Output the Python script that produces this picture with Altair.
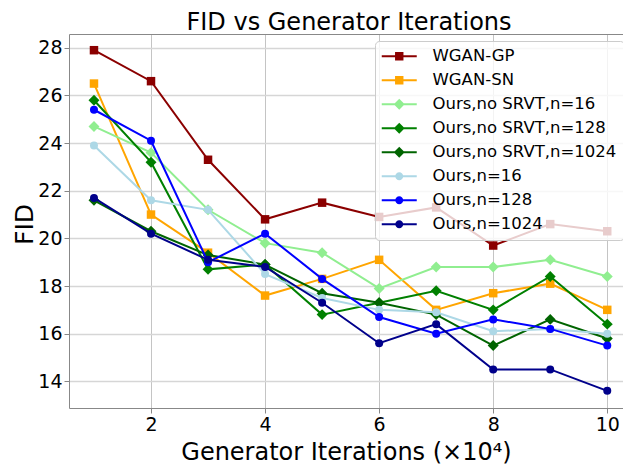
import altair as alt
import pandas as pd

FONT = "DejaVu Sans"

iterations = [1, 2, 3, 4, 5, 6, 7, 8, 9, 10]

series_names = [
    "WGAN-GP",
    "WGAN-SN",
    "Ours,no SRVT,n=16",
    "Ours,no SRVT,n=128",
    "Ours,no SRVT,n=1024",
    "Ours,n=16",
    "Ours,n=128",
    "Ours,n=1024",
]
series_colors = ["#8B0000", "#FFA500", "#90EE90", "#008000", "#006400", "#ADD8E6", "#0000FF", "#00008B"]
series_markers = ["square", "square", "diamond", "diamond", "diamond", "circle", "circle", "circle"]

wgan_gp = [27.9, 26.6, 23.3, 20.8, 21.5, 20.9, 21.3, 19.7, 20.6, 20.3]
wgan_sn = [26.5, 21.0, 19.4, 17.6, 18.3, 19.1, 17.0, 17.7, 18.1, 17.0]
nosrvt_16 = [24.7, 23.6, 21.2, 19.8, 19.4, 17.9, 18.8, 18.8, 19.1, 18.4]
nosrvt_128 = [25.8, 23.2, 18.7, 18.9, 16.8, 17.3, 17.8, 17.0, 18.4, 16.4]
nosrvt_1024 = [21.6, 20.3, 19.3, 18.9, 17.7, 17.3, 16.8, 15.5, 16.6, 15.8]
ours_16 = [23.9, 21.6, 21.2, 18.5, 17.5, 17.0, 16.9, 16.1, 16.2, 16.0]
ours_128 = [25.4, 24.1, 19.0, 20.2, 18.3, 16.7, 16.0, 16.6, 16.2, 15.5]
ours_1024 = [21.7, 20.2, 19.1, 18.8, 17.3, 15.6, 16.4, 14.5, 14.5, 13.6]

all_values = [wgan_gp, wgan_sn, nosrvt_16, nosrvt_128, nosrvt_1024, ours_16, ours_128, ours_1024]

x_ticks = [2, 4, 6, 8, 10]
y_ticks = [14, 16, 18, 20, 22, 24, 26, 28]
Y_MAX = 28.58

rows = []
for name, vals in zip(series_names, all_values):
    for it, v in zip(iterations, vals):
        rows.append({"series": name, "iteration": it, "fid": v})
df = pd.DataFrame(rows)

marker_sizes = {"square": 72, "diamond": 120, "circle": 64}

# legend symbols: a line with the marker in the middle
line_part = "M-2.5,-0.14H2.5V0.14H-2.5Z"
legend_paths = {
    "square": line_part + "M-0.6,-0.6H0.6V0.6H-0.6Z",
    "diamond": line_part + "M0,-0.78L0.78,0L0,0.78L-0.78,0Z",
    "circle": line_part + "M-0.57,0A0.57,0.57,0,1,1,0.57,0A0.57,0.57,0,1,1,-0.57,0Z",
}

PLOT_W, PLOT_H = 554, 374

x_scale = alt.Scale(domain=[0.562, 10.276], nice=False, zero=False)
y_scale = alt.Scale(domain=[12.88, Y_MAX], nice=False, zero=False)

SPINE = "#888888"
top_test = "datum.value > 28.5"

x_axis = alt.Axis(
    values=x_ticks, format="d",
    title="Generator Iterations (×10⁴)",
    grid=True, gridColor="#c4c4c4", gridWidth=1,
    domain=True, domainColor=SPINE, domainWidth=1,
    tickColor=SPINE, tickSize=5, tickWidth=1,
    labelPadding=2, labelFontSize=19, labelColor="black", labelFont=FONT,
    titleFont=FONT, titleFontSize=24, titleFontWeight="normal", titleColor="black",
    titleY=51, titleBaseline="alphabetic",
)
y_axis = alt.Axis(
    values=y_ticks + [Y_MAX], format="d", title="FID",
    labelExpr=f"{top_test} ? '' : datum.label",
    grid=True,
    gridColor={"condition": {"test": top_test, "value": SPINE}, "value": "#d6d6d6"},
    gridWidth={"condition": {"test": top_test, "value": 1}, "value": 1.5},
    domain=True, domainColor=SPINE, domainWidth=1,
    tickColor={"condition": {"test": top_test, "value": "transparent"}, "value": SPINE},
    tickSize=5, tickWidth=1,
    labelPadding=2, labelFontSize=19, labelColor="black", labelFont=FONT,
    titleFont=FONT, titleFontSize=25, titleFontWeight="normal", titleColor="black",
    titleX=-37, titleY=PLOT_H / 2 + 3, titleBaseline="alphabetic", titleAngle=270,
)

layers = []
for i, (name, color, marker) in enumerate(zip(series_names, series_colors, series_markers)):
    base = alt.Chart(df).transform_filter(alt.datum.series == name)
    if i == 0:
        xenc = alt.X("iteration:Q", scale=x_scale, axis=x_axis)
        yenc = alt.Y("fid:Q", scale=y_scale, axis=y_axis)
    else:
        xenc = alt.X("iteration:Q", scale=x_scale)
        yenc = alt.Y("fid:Q", scale=y_scale)
    line = base.mark_line(color=color, strokeWidth=2).encode(x=xenc, y=yenc)
    pts = base.mark_point(filled=True, shape=marker, size=marker_sizes[marker],
                          color=color, opacity=1).encode(x=xenc, y=yenc)
    layers += [line, pts]

leg = alt.Legend(
    title=None, orient="none", legendX=306, legendY=7,
    fillColor="rgba(255,255,255,0.8)", strokeColor="#cccccc", cornerRadius=4,
    padding=7, symbolSize=196, symbolOffset=9, labelOffset=25,
    labelFontSize=16.5, labelFont=FONT, labelColor="black",
    rowPadding=7.0, symbolStrokeWidth=0, labelLimit=400,
)

legend_layer = alt.Chart(df).transform_filter("false").mark_point(
    filled=True, opacity=1, strokeWidth=0
).encode(
    color=alt.Color("series:N", scale=alt.Scale(domain=series_names, range=series_colors), legend=leg),
    shape=alt.Shape("series:N", scale=alt.Scale(domain=series_names,
                                                range=[legend_paths[m] for m in series_markers]), legend=leg),
)

chart = alt.layer(*layers, legend_layer).properties(
    width=PLOT_W, height=PLOT_H,
    padding={"left": 61, "top": 26, "right": 0, "bottom": 57},
    autosize=alt.AutoSizeParams(type="none"),
    title=alt.Title("FID vs Generator Iterations", fontSize=24, font=FONT, fontWeight="normal",
                    color="black", offset=-1, anchor="middle", dx=3),
).configure_view(stroke=None)

chart.save("out.html", embed_options={"renderer": "svg", "actions": False})
